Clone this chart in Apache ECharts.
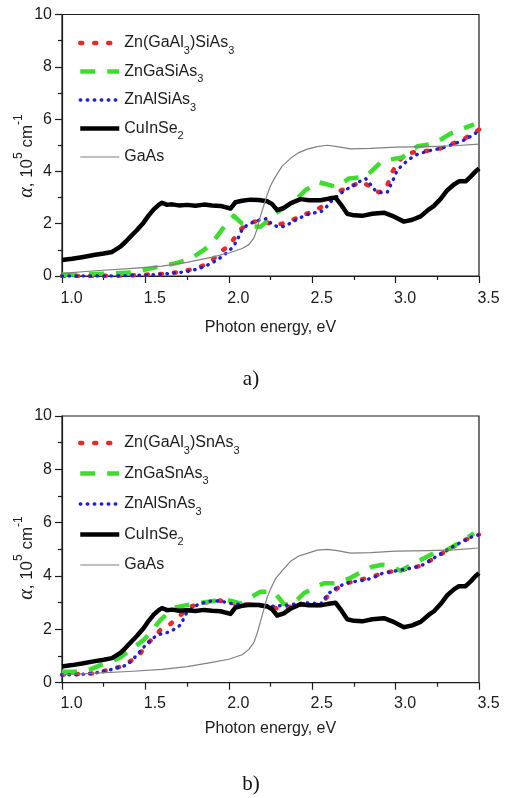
<!DOCTYPE html>
<html><head><meta charset="utf-8">
<script src="https://cdn.jsdelivr.net/npm/echarts@6/dist/echarts.min.js"></script>
<style>html,body{margin:0;padding:0;background:#fff}#c{width:506px;height:798px}</style>
</head><body><div id="c"></div>
<script>
// ---------- data ----------
const xTickLabels = ['1.0', '1.5', '2.0', '2.5', '3.0', '3.5'];
const yTickLabels = ['0', '2', '4', '6', '8', '10'];

const namesTop = ['Zn(GaAl3)SiAs3', 'ZnGaSiAs3', 'ZnAlSiAs3', 'CuInSe2', 'GaAs'];
const namesBot = ['Zn(GaAl3)SnAs3', 'ZnGaSnAs3', 'ZnAlSnAs3', 'CuInSe2', 'GaAs'];

// CuInSe2 (same in both panels)
const cuE = [1.00,1.06,1.12,1.19,1.25,1.30,1.35,1.38,1.41,1.45,1.49,1.52,1.55,1.58,1.60,1.63,1.66,1.70,1.75,1.80,1.85,1.90,1.95,2.01,2.04,2.08,2.13,2.18,2.23,2.26,2.29,2.33,2.37,2.43,2.48,2.55,2.60,2.64,2.67,2.71,2.75,2.80,2.86,2.93,2.98,3.05,3.10,3.15,3.20,3.23,3.27,3.31,3.35,3.38,3.42,3.45,3.48,3.50];
const cuA = [0.61,0.66,0.72,0.80,0.86,0.92,1.12,1.30,1.50,1.76,2.05,2.32,2.55,2.72,2.80,2.72,2.74,2.70,2.72,2.69,2.73,2.70,2.68,2.58,2.82,2.88,2.92,2.91,2.86,2.75,2.52,2.60,2.78,2.94,2.90,2.90,2.96,3.00,2.75,2.38,2.32,2.30,2.38,2.42,2.30,2.08,2.15,2.28,2.55,2.68,2.95,3.28,3.50,3.62,3.62,3.80,4.00,4.11];

// GaAs
const gaE = [1.00,1.20,1.40,1.60,1.75,1.90,2.00,2.08,2.12,2.15,2.17,2.19,2.21,2.23,2.25,2.28,2.32,2.37,2.42,2.47,2.53,2.59,2.65,2.73,2.85,3.00,3.20,3.35,3.50];
const gaA_top = [0.10,0.20,0.28,0.38,0.52,0.72,0.88,1.05,1.20,1.45,1.80,2.30,2.70,3.10,3.45,3.80,4.20,4.50,4.72,4.85,4.95,5.00,4.95,4.86,4.88,4.93,4.95,4.98,5.04];
const gaA_bot = [0.29,0.36,0.42,0.50,0.60,0.76,0.88,1.05,1.25,1.50,1.85,2.30,2.75,3.20,3.50,3.90,4.20,4.55,4.75,4.85,4.97,5.00,4.95,4.86,4.88,4.93,4.95,4.98,5.05];

// panel a
const redE_top = [1.00,1.20,1.40,1.60,1.70,1.80,1.84,1.90,1.96,2.00,2.04,2.07,2.11,2.15,2.20,2.25,2.30,2.35,2.40,2.45,2.50,2.55,2.60,2.65,2.70,2.75,2.80,2.85,2.90,2.94,2.98,3.02,3.06,3.10,3.17,3.22,3.28,3.34,3.40,3.45,3.50];
const redA_top = [0.00,0.00,0.02,0.08,0.15,0.28,0.38,0.60,0.97,1.15,1.50,1.78,1.98,2.07,2.12,2.00,1.97,2.05,2.20,2.35,2.45,2.62,2.85,3.20,3.35,3.48,3.60,3.40,3.20,3.30,3.98,4.40,4.66,4.72,4.78,4.80,4.90,5.06,5.20,5.40,5.60];
const grnE_top = [1.00,1.10,1.20,1.30,1.41,1.49,1.54,1.59,1.69,1.74,1.79,1.84,1.89,1.94,1.99,2.03,2.08,2.13,2.19,2.23,2.28,2.35,2.41,2.46,2.50,2.53,2.58,2.64,2.68,2.72,2.77,2.82,2.87,2.92,2.98,3.04,3.08,3.13,3.18,3.22,3.28,3.33,3.38,3.43,3.47];
const grnA_top = [0.05,0.06,0.08,0.10,0.13,0.23,0.30,0.36,0.50,0.60,0.74,0.95,1.18,1.60,2.05,2.30,2.00,1.90,1.88,2.10,2.39,2.70,2.97,3.28,3.45,3.60,3.52,3.41,3.55,3.73,3.76,3.79,4.10,4.40,4.47,4.53,4.75,4.96,5.01,5.06,5.25,5.45,5.58,5.70,5.80];
const bluE_top = [1.00,1.10,1.20,1.30,1.40,1.50,1.55,1.60,1.65,1.70,1.75,1.80,1.85,1.90,1.95,2.00,2.03,2.06,2.08,2.11,2.15,2.19,2.23,2.26,2.30,2.34,2.38,2.42,2.46,2.50,2.55,2.58,2.62,2.66,2.70,2.74,2.78,2.82,2.85,2.88,2.92,2.95,2.98,3.01,3.05,3.09,3.13,3.18,3.22,3.27,3.32,3.37,3.42,3.46,3.50];
const bluA_top = [0.00,0.00,0.00,0.00,0.02,0.03,0.05,0.07,0.10,0.13,0.17,0.25,0.35,0.50,0.70,0.95,1.15,1.50,1.78,1.95,2.07,2.15,2.20,1.95,1.88,1.90,2.07,2.20,2.33,2.40,2.45,2.60,2.90,3.10,3.30,3.42,3.60,3.73,3.50,3.25,3.18,3.20,3.60,4.05,4.30,4.50,4.65,4.75,4.82,4.88,4.98,5.10,5.22,5.38,5.55];

// panel b
const redE_bot = [1.00,1.20,1.35,1.45,1.52,1.59,1.65,1.71,1.77,1.85,1.95,2.05,2.15,2.25,2.32,2.38,2.46,2.55,2.60,2.66,2.72,2.78,2.85,2.92,3.00,3.08,3.16,3.24,3.32,3.40,3.47,3.50];
const redA_bot = [0.30,0.35,0.60,0.95,1.50,1.98,2.20,2.54,2.85,3.00,3.08,2.95,2.93,2.85,2.73,2.88,2.95,2.90,3.30,3.58,3.75,3.85,3.95,4.10,4.20,4.27,4.40,4.70,5.00,5.30,5.50,5.55];
const grnE_bot = [1.00,1.10,1.17,1.23,1.29,1.35,1.41,1.49,1.54,1.59,1.67,1.74,1.81,1.89,1.94,1.99,2.07,2.13,2.19,2.27,2.33,2.38,2.45,2.51,2.57,2.65,2.72,2.78,2.86,2.92,2.95,3.03,3.09,3.15,3.23,3.30,3.37,3.42,3.47];
const grnA_bot = [0.41,0.41,0.50,0.66,0.79,0.95,1.23,1.60,1.95,2.35,2.80,2.90,2.98,3.05,3.08,3.10,2.97,3.20,3.41,3.41,2.95,2.92,3.35,3.55,3.73,3.73,3.90,4.10,4.35,4.42,4.40,4.20,4.40,4.60,4.86,4.95,5.20,5.40,5.60];
const bluE_bot = [1.00,1.10,1.19,1.30,1.39,1.45,1.51,1.57,1.65,1.71,1.75,1.81,1.86,1.91,1.97,2.03,2.10,2.19,2.26,2.34,2.40,2.46,2.51,2.55,2.58,2.62,2.66,2.70,2.76,2.82,2.87,2.92,2.99,3.06,3.11,3.16,3.21,3.26,3.31,3.36,3.41,3.46,3.50];
const bluA_bot = [0.29,0.31,0.35,0.50,0.66,1.04,1.48,1.79,1.91,2.16,2.66,2.91,3.02,3.08,3.03,2.95,2.94,2.93,2.87,2.90,2.95,3.00,2.98,2.95,3.20,3.48,3.60,3.73,3.80,3.85,3.95,4.10,4.18,4.25,4.32,4.41,4.60,4.79,4.98,5.16,5.32,5.48,5.55];

// ---------- chart ----------
const FONT = '"Liberation Sans", Arial, sans-serif';
const INK = '#1c1c1c';
const COLORS = ['#e42a2a', '#3ddc2e', '#1f1fd2', '#000000', '#808080'];
const LSTYLES = [
  { width: 4.5, type: [2, 12], cap: 'round' },
  { width: 4.5, type: [15, 12], cap: 'butt' },
  { width: 3.4, type: [0.5, 6.5], cap: 'round' },
  { width: 4.5, type: 'solid', cap: 'butt' },
  { width: 1.2, type: 'solid', cap: 'butt' }
];
const zip = (xs, ys) => xs.map((x, i) => [x, ys[i]]);

const panels = [
  { names: namesTop, data: [zip(redE_top, redA_top), zip(grnE_top, grnA_top), zip(bluE_top, bluA_top), zip(cuE, cuA), zip(gaE, gaA_top)] },
  { names: namesBot, data: [zip(redE_bot, redA_bot), zip(grnE_bot, grnA_bot), zip(bluE_bot, bluA_bot), zip(cuE, cuA), zip(gaE, gaA_bot)] }
];

const grids = [
  { left: 62, top: 14.5, width: 417, height: 261.5 },
  { left: 62, top: 416, width: 417, height: 266.7 }
];

function xAxisFor(i, gap, margin) {
  return {
    gridIndex: i, type: 'value', min: 1, max: 3.5, interval: 0.5,
    axisLine: { show: true, onZero: false, lineStyle: { color: INK, width: 1.2 } },
    axisTick: { show: true, inside: false, length: 7, lineStyle: { color: INK, width: 1.2 } },
    minorTick: { show: true, splitNumber: 2, length: 4, lineStyle: { color: INK, width: 1.2 } },
    splitLine: { show: false },
    axisLabel: { margin: margin, fontSize: 16, color: INK, fontFamily: FONT, padding: [0, 0, 0, 19],
      formatter: v => xTickLabels[Math.round((v - 1) / 0.5)] },
    name: 'Photon energy, eV', nameLocation: 'middle', nameGap: gap,
    nameTextStyle: { fontSize: 16, color: INK, fontFamily: FONT }
  };
}
function yAxisFor(i) {
  return {
    gridIndex: i, type: 'value', min: 0, max: 10, interval: 2,
    axisLine: { show: true, onZero: false, lineStyle: { color: INK, width: 1.2 } },
    axisTick: { show: true, inside: false, length: 7, lineStyle: { color: INK, width: 1.2 } },
    minorTick: { show: true, splitNumber: 2, length: 4, lineStyle: { color: INK, width: 1.2 } },
    splitLine: { show: false },
    axisLabel: { margin: 10, fontSize: 16, color: INK, fontFamily: FONT,
      formatter: v => yTickLabels[Math.round(v / 2)] }
  };
}

const series = [];
panels.forEach((p, pi) => {
  p.data.forEach((d, si) => {
    series.push({
      type: 'line', name: p.names[si], xAxisIndex: pi, yAxisIndex: pi,
      data: d, symbol: 'none', showSymbol: false, smooth: false, silent: true,
      lineStyle: Object.assign({ color: COLORS[si], join: 'round' }, LSTYLES[si]),
      itemStyle: { color: COLORS[si] },
      z: 2 + si
    });
  });
});

const legendFmt = name => name.replace(/(\d)/g, '{s|$1}');
function legendFor(pi, top, gap) {
  return {
    orient: 'vertical', left: 78, top: top, itemWidth: 39, itemHeight: 14, itemGap: gap,
    selectedMode: false, padding: 0,
    data: panels[pi].names.map((n, si) => ({
      name: n,
      lineStyle: Object.assign({ color: COLORS[si] }, LSTYLES[si]),
      itemStyle: { opacity: 0, color: 'rgba(0,0,0,0)', borderWidth: 0 }
    })),
    formatter: legendFmt,
    textStyle: { fontSize: 16, color: INK, fontFamily: FONT, lineHeight: 26,
      rich: { s: { fontSize: 11, lineHeight: 11, verticalAlign: 'bottom', fontFamily: FONT, color: INK } } }
  };
}

function yName(y) {
  return {
    type: 'text', x: 27, y: y, rotation: Math.PI / 2, silent: true,
    style: {
      text: '{a|α}, 10{s|5} cm{s|-1}', fontSize: 17, fontFamily: FONT, fill: INK,
      lineHeight: 28, align: 'center', verticalAlign: 'middle',
      rich: {
        a: { fontFamily: '"Liberation Serif", serif', fontStyle: 'italic', fontSize: 20, lineHeight: 28, fill: INK },
        s: { fontSize: 12, lineHeight: 12, verticalAlign: 'top', fontFamily: FONT, fill: INK }
      }
    }
  };
}
function caption(t, y) {
  return { type: 'text', x: 251, y: y, silent: true,
    style: { text: t, fontFamily: '"Liberation Serif", serif', fontSize: 21, fill: '#111', align: 'center', verticalAlign: 'middle' } };
}

const option = {
  animation: false,
  backgroundColor: '#fff',
  grid: grids.map(g => Object.assign({ show: true, borderColor: INK, borderWidth: 1.2, backgroundColor: 'transparent', containLabel: false }, g)),
  xAxis: [xAxisFor(0, 44, 15), xAxisFor(1, 38, 13)],
  yAxis: [yAxisFor(0), yAxisFor(1)],
  legend: [legendFor(0, 30, 2.5), legendFor(1, 430, 4.5)],
  graphic: [yName(156), yName(558), caption('a)', 379), caption('b)', 784)],
  series: series
};

const chart = echarts.init(document.getElementById('c'), null, { renderer: 'canvas' });
chart.setOption(option);
</script>
</body></html>
